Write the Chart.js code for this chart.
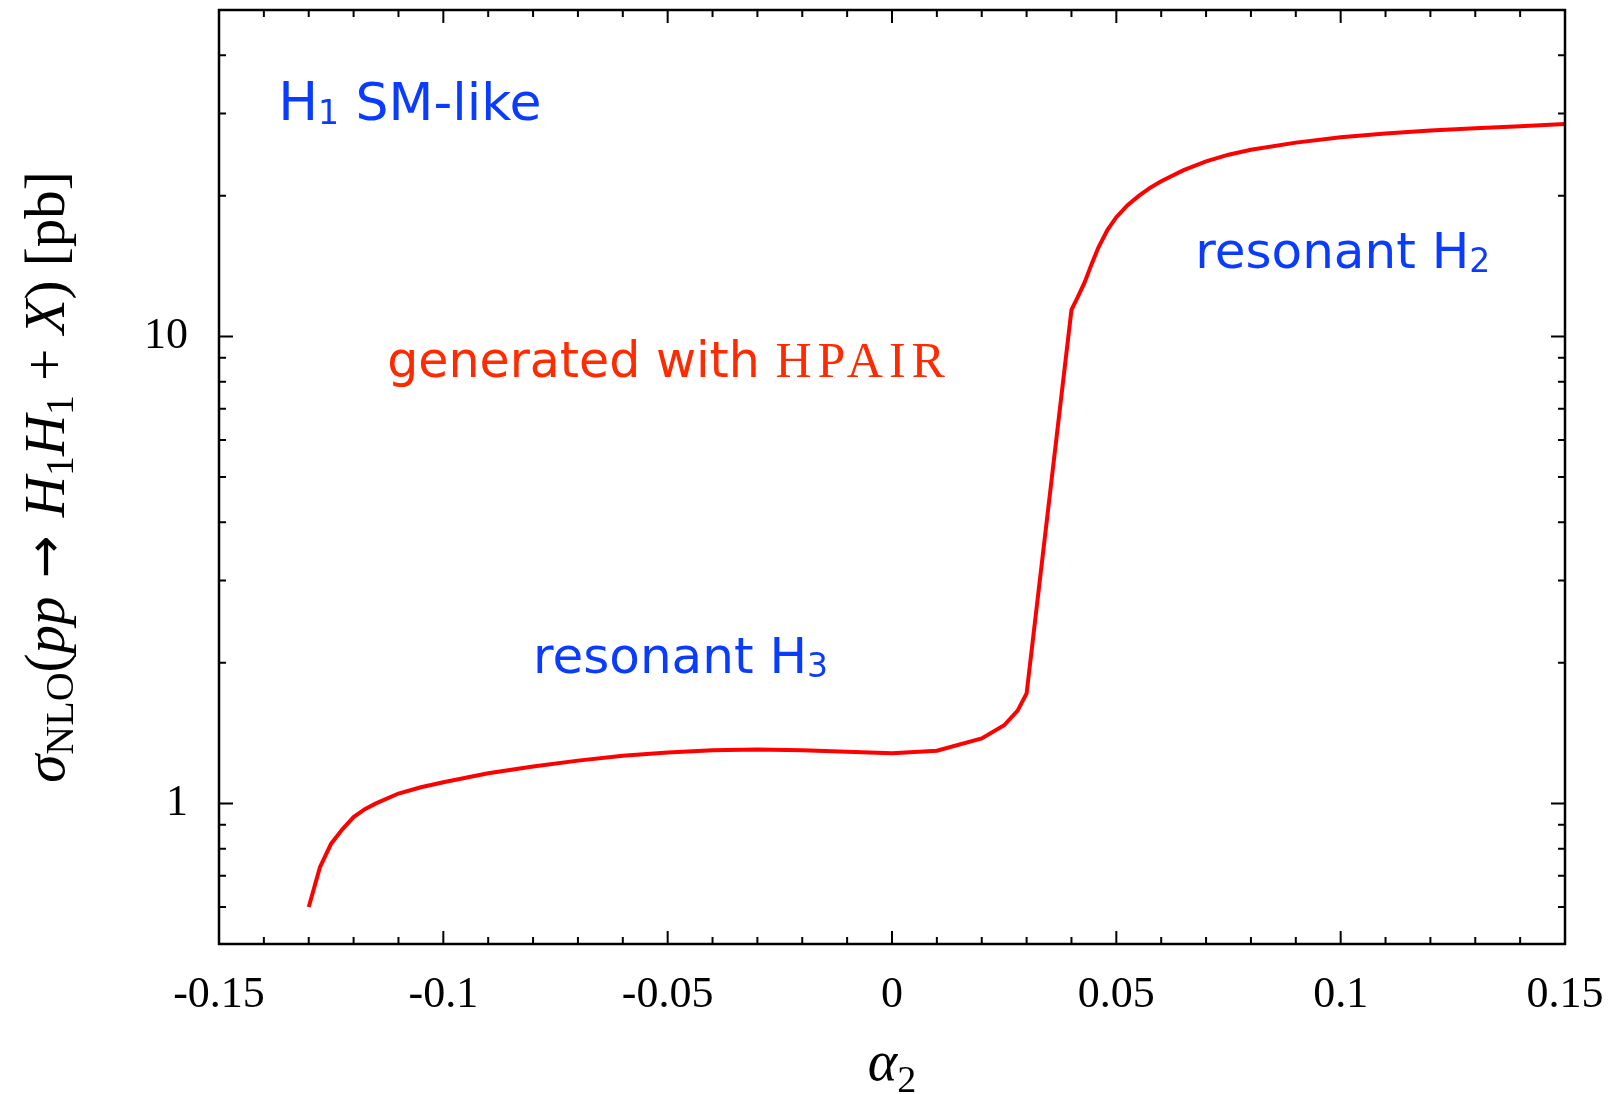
<!DOCTYPE html>
<html>
<head>
<meta charset="utf-8">
<script src="https://cdn.jsdelivr.net/npm/chart.js@4.4.0/dist/chart.umd.min.js"></script>
<style>
  html, body { margin: 0; padding: 0; background: #fff; }
  #wrap { width: 1613px; height: 1094px; }
</style>
</head>
<body>
<div id="wrap"><canvas id="xsec" width="1613" height="1094"></canvas></div>
<script>
// alpha_2 scan and NLO cross section (pb)
const alpha2 = [
  -0.13, -0.1275, -0.125, -0.1225, -0.12, -0.1175, -0.115, -0.11, -0.105, -0.1,
  -0.09, -0.08, -0.07, -0.06, -0.05, -0.04, -0.03, -0.02, -0.01, 0,
  0.01, 0.02, 0.025, 0.028, 0.03, 0.04, 0.0415, 0.043, 0.0445, 0.046,
  0.048, 0.05, 0.0525, 0.055, 0.0575, 0.06, 0.065, 0.07, 0.075, 0.08,
  0.09, 0.1, 0.11, 0.12, 0.13, 0.14, 0.15
];
const sigmaNLO = [
  0.60, 0.73, 0.82, 0.88, 0.935, 0.972, 1.00, 1.05, 1.083, 1.11,
  1.16, 1.20, 1.235, 1.265, 1.285, 1.30, 1.305, 1.30, 1.29, 1.28,
  1.297, 1.378, 1.47, 1.58, 1.72, 11.4, 12.2, 13.1, 14.3, 15.5,
  16.9, 18.0, 19.1, 20.0, 20.8, 21.5, 22.7, 23.7, 24.5, 25.1,
  26.0, 26.7, 27.2, 27.6, 27.9, 28.2, 28.5
];

const xMajorTicks = [-0.15, -0.1, -0.05, 0, 0.05, 0.1, 0.15];
const xTickLabels = ['-0.15', '-0.1', '-0.05', '0', '0.05', '0.1', '0.15'];
const yMajorTicks = [1, 10];
const yTickLabels = ['1', '10'];
const yMinorTicks = [0.6, 0.7, 0.8, 0.9, 2, 3, 4, 5, 6, 7, 8, 9, 20, 30, 40];

const BLUE = '#0a3cff';
const RED_TEXT = '#ff2a00';
const SERIF = '"Liberation Serif", "Times New Roman", serif';
const HAND = '"DejaVu Sans", sans-serif';

// text labels anchored in data coordinates
const notes = [
  { x: -0.1368, y: 29.1, color: BLUE, runs: [
    { t: 'H', f: '53px ' + HAND },
    { t: '1', f: '33px ' + HAND, dy: 4 },
    { t: ' SM-like', f: '52px ' + HAND }
  ] },
  { x: -0.1125, y: 8.19, color: RED_TEXT, runs: [
    { t: 'generated with ', f: '49px ' + HAND },
    { t: 'HPAIR', f: '50px ' + SERIF, ls: 6 }
  ] },
  { x: -0.08, y: 1.9, color: BLUE, runs: [
    { t: 'resonant H', f: '50px ' + HAND },
    { t: '3', f: '33px ' + HAND, dy: 4 }
  ] },
  { x: 0.0676, y: 14.0, color: BLUE, runs: [
    { t: 'resonant H', f: '50px ' + HAND },
    { t: '2', f: '33px ' + HAND, dy: 4 }
  ] }
];

function runsWidth(ctx, runs) {
  let w = 0;
  runs.forEach(r => {
    ctx.font = r.f;
    ctx.letterSpacing = (r.ls || 0) + 'px';
    w += ctx.measureText(r.t).width;
  });
  ctx.letterSpacing = '0px';
  return w;
}

function drawRuns(ctx, x, y, runs) {
  runs.forEach(r => {
    ctx.font = r.f;
    ctx.letterSpacing = (r.ls || 0) + 'px';
    ctx.fillText(r.t, x, y + (r.dy || 0));
    x += ctx.measureText(r.t).width;
  });
  ctx.letterSpacing = '0px';
}

const framePlugin = {
  id: 'frame',
  afterDraw(chart) {
    const { ctx, chartArea: a, scales: { x, y } } = chart;
    ctx.save();
    ctx.strokeStyle = '#000';
    ctx.fillStyle = '#000';
    ctx.lineWidth = 2.5;
    ctx.strokeRect(a.left, a.top, a.right - a.left, a.bottom - a.top);

    // inward ticks on all four sides
    ctx.lineWidth = 2;
    ctx.beginPath();
    const xMinor = [];
    for (let i = -14; i <= 14; i++) if (i % 5 !== 0) xMinor.push(i / 100);
    const xt = (v, len) => {
      const px = x.getPixelForValue(v);
      ctx.moveTo(px, a.bottom); ctx.lineTo(px, a.bottom - len);
      ctx.moveTo(px, a.top); ctx.lineTo(px, a.top + len);
    };
    const yt = (v, len) => {
      const py = y.getPixelForValue(v);
      ctx.moveTo(a.left, py); ctx.lineTo(a.left + len, py);
      ctx.moveTo(a.right, py); ctx.lineTo(a.right - len, py);
    };
    xMajorTicks.forEach(v => xt(v, 13));
    xMinor.forEach(v => xt(v, 7));
    yMajorTicks.forEach(v => yt(v, 14));
    yMinorTicks.forEach(v => yt(v, 7));
    ctx.stroke();

    // tick labels
    ctx.font = '44px ' + SERIF;
    ctx.textAlign = 'center';
    ctx.textBaseline = 'alphabetic';
    xMajorTicks.forEach((v, i) => ctx.fillText(xTickLabels[i], x.getPixelForValue(v), a.bottom + 63));
    ctx.textAlign = 'right';
    yMajorTicks.forEach((v, i) => ctx.fillText(yTickLabels[i], a.left - 31, y.getPixelForValue(v) + 12));

    // x axis title: alpha_2
    ctx.textAlign = 'left';
    const xTitle = [
      { t: '\u03b1', f: 'italic 56px ' + SERIF },
      { t: '2', f: '38px ' + SERIF, dy: 12 }
    ];
    const xc = (a.left + a.right) / 2;
    drawRuns(ctx, xc - runsWidth(ctx, xTitle) / 2, 1080, xTitle);

    // y axis title: sigma_NLO(pp -> H1 H1 + X) [pb]
    const F = 57, S = 40;
    const yTitle = [
      { t: '\u03c3', f: `italic ${F}px ${SERIF}` },
      { t: 'NLO', f: `${S}px ${SERIF}`, dy: 9 },
      { t: '(', f: `${F}px ${SERIF}` },
      { t: 'pp', f: `italic ${F}px ${SERIF}` },
      { t: ' ', f: `${F}px ${SERIF}`, ls: 4 },
      { t: '\u2192', f: `${F - 6}px "DejaVu Sans", sans-serif`, dy: -2 },
      { t: ' ', f: `${F}px ${SERIF}`, ls: 4 },
      { t: 'H', f: `italic ${F}px ${SERIF}` },
      { t: '1', f: `${S}px ${SERIF}`, dy: 9 },
      { t: 'H', f: `italic ${F}px ${SERIF}` },
      { t: '1', f: `${S}px ${SERIF}`, dy: 9 },
      { t: ' + ', f: `${F}px ${SERIF}` },
      { t: 'X', f: `italic ${F}px ${SERIF}` },
      { t: ') [pb]', f: `${F}px ${SERIF}` }
    ];
    ctx.save();
    ctx.translate(64, (a.top + a.bottom) / 2);
    ctx.rotate(-Math.PI / 2);
    drawRuns(ctx, -runsWidth(ctx, yTitle) / 2, 0, yTitle);
    ctx.restore();

    // annotations
    notes.forEach(n => {
      ctx.fillStyle = n.color;
      drawRuns(ctx, x.getPixelForValue(n.x), y.getPixelForValue(n.y), n.runs);
    });
    ctx.restore();
  }
};

new Chart(document.getElementById('xsec'), {
  type: 'scatter',
  data: {
    datasets: [{
      data: alpha2.map((a, i) => ({ x: a, y: sigmaNLO[i] })),
      showLine: true,
      borderColor: '#ff0000',
      borderWidth: 4,
      pointRadius: 0,
      tension: 0
    }]
  },
  options: {
    responsive: false,
    animation: false,
    devicePixelRatio: 1,
    layout: { padding: { top: 10, right: 48, left: 0, bottom: 0 } },
    plugins: { legend: { display: false }, tooltip: { enabled: false } },
    scales: {
      x: {
        type: 'linear', min: -0.15, max: 0.15,
        grid: { display: false }, border: { display: false },
        ticks: { display: false },
        afterFit: s => { s.height = 150; }
      },
      y: {
        type: 'logarithmic', min: 0.5, max: 50,
        grid: { display: false }, border: { display: false },
        ticks: { display: false },
        afterFit: s => { s.width = 219; }
      }
    }
  },
  plugins: [framePlugin]
});
</script>
</body>
</html>
